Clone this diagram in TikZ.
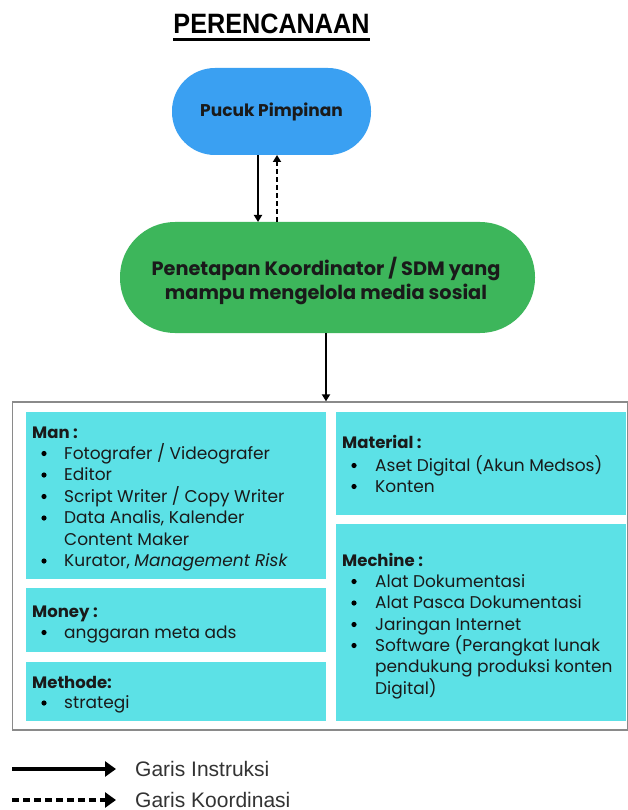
\documentclass[tikz,border=0pt]{standalone}
\usepackage{fontspec}
\setmainfont{Poppins}
\newfontfamily\legendfont{Liberation Sans}
\usetikzlibrary{arrows.meta,calc}
\definecolor{pillblue}{HTML}{3AA0F2}
\definecolor{pillgreen}{HTML}{3DB65B}
\definecolor{panelcyan}{HTML}{5CE1E6}
\definecolor{framegray}{HTML}{8A8A8A}
\definecolor{legendtext}{HTML}{333333}
\definecolor{bodytext}{HTML}{1A1A1A}
\tikzset{
  panel/.style={fill=panelcyan, draw=none},
  head/.style={anchor=base west, font=\fontsize{16.5}{16.5}\selectfont\bfseries, inner sep=0pt, text=bodytext},
  itemtext/.style={anchor=base west, font=\fontsize{17}{17}\selectfont, inner sep=0pt, text=bodytext},
  dot/.style={circle, fill=black, inner sep=0pt, minimum size=5.2pt},
  flow/.style={line width=1.8pt, -{Triangle[length=7pt,width=8pt]}},
  legendarrow/.style={line width=3.8pt, -{Triangle[length=11pt,width=15pt]}},
  legendlabel/.style={anchor=base west, inner sep=0pt, font=\legendfont\fontsize{21}{21}\selectfont, text=legendtext},
}
\begin{document}
\begin{tikzpicture}[x=1pt,y=-1pt]
\useasboundingbox (0,0) rectangle (628,810);
\fill[white] (0,0) rectangle (628,810);

% title
\node[font=\legendfont\fontsize{28}{28}\selectfont\bfseries, inner sep=0pt, anchor=base] (title) at (271.5,34)
  {\scalebox{0.9}[1]{PERENCANAAN}};
\draw[line width=2.2pt] (173,39.5) -- (370,39.5);

% top pill
\fill[pillblue, rounded corners=43pt] (172,68) rectangle (371,155);
\node[inner sep=0pt, minimum width=199pt, minimum height=87pt] (pucuk) at (271.5,111.5) {};
\node[font=\fontsize{17}{17}\selectfont\bfseries, text=bodytext] at (pucuk.center) {Pucuk Pimpinan};

% coordinator pill
\fill[pillgreen, rounded corners=55pt] (120,222) rectangle (535,333);
\node[inner sep=0pt, minimum width=415pt, minimum height=111pt] (koord) at (327.5,277.5) {};
\node[font=\fontsize{19.3}{24}\selectfont\bfseries, align=center, text=bodytext] at (326,281) {Penetapan Koordinator / SDM yang\\mampu mengelola media sosial};

% connectors between the pills
\coordinate (a1) at (258,155);
\coordinate (a2) at (258,222);
\coordinate (b1) at (277,222);
\coordinate (b2) at (277,155);
\draw[flow] (a1) -- (a2);
\draw[flow, dash pattern=on 5pt off 3pt] (b1) -- (b2);

% outer frame
\node[draw=framegray, line width=1.3pt, inner sep=0pt, minimum width=615pt, minimum height=328pt] (frame) at (320,566) {};
\coordinate (c1) at (326,333);
\draw[flow] (c1) -- (c1 |- frame.north);

% panels
\fill[panel] (26,412) rectangle (326,579);
\fill[panel] (26,588) rectangle (326,652);
\fill[panel] (26,662) rectangle (326,721);
\fill[panel] (336,412) rectangle (626,515);
\fill[panel] (336,524) rectangle (626,721);

% Man
\node[head] at (32,438) {Man :};
\node[itemtext] at (64,459) {Fotografer / Videografer};
\node[itemtext] at (64,480.5) {Editor};
\node[itemtext] at (64,502) {Script Writer / Copy Writer};
\node[itemtext] at (64,523.5) {Data Analis, Kalender};
\node[itemtext] at (64,545) {Content Maker};
\node[itemtext] at (64,566.5) {Kurator, \textit{Management Risk}};
\foreach \y in {459,480.5,502,523.5,566.5} \node[dot] at (44,\y-5.5) {};

% Money
\node[head] at (32,617) {Money :};
\node[itemtext] at (64,638) {anggaran meta ads};
\node[dot] at (44,632.5) {};

% Methode
\node[head] at (32,688) {Methode:};
\node[itemtext] at (64,708.5) {strategi};
\node[dot] at (44,703) {};

% Material
\node[head] at (342,448) {Material :};
\node[itemtext] at (375,471) {Aset Digital (Akun Medsos)};
\node[itemtext] at (375,492) {Konten};
\foreach \y in {471,492} \node[dot] at (354,\y-5.5) {};

% Mechine
\node[head] at (342,566) {Mechine :};
\node[itemtext] at (375,587) {Alat Dokumentasi};
\node[itemtext] at (375,608.5) {Alat Pasca Dokumentasi};
\node[itemtext] at (375,630) {Jaringan Internet};
\node[itemtext] at (375,651) {Software (Perangkat lunak};
\node[itemtext] at (375,672.5) {pendukung produksi konten};
\node[itemtext] at (375,694) {Digital)};
\foreach \y in {587,608.5,630,651} \node[dot] at (354,\y-5.5) {};

% legend
\coordinate (l1) at (12,769);
\coordinate (l2) at (116,769);
\coordinate (m1) at (12,800);
\coordinate (m2) at (116,800);
\draw[legendarrow] (l1) -- (l2);
\draw[legendarrow, dash pattern=on 7pt off 4pt] (m1) -- (m2);
\node[legendlabel] at (135,776) {Garis Instruksi};
\node[legendlabel] at (135,807) {Garis Koordinasi};
\end{tikzpicture}
\end{document}
